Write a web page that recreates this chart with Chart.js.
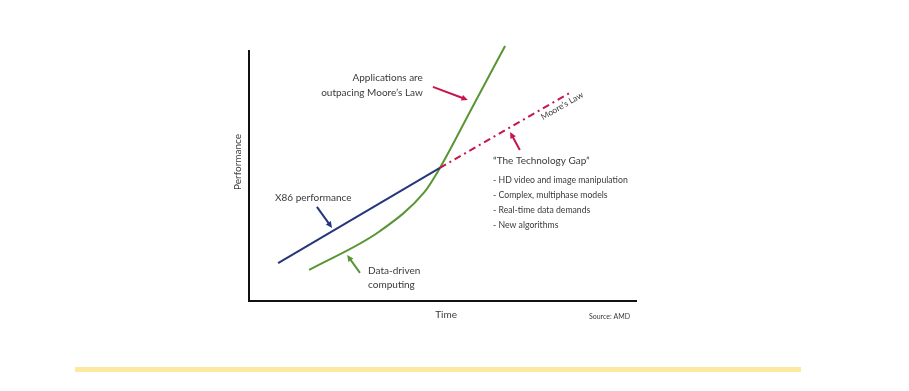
<!DOCTYPE html>
<html>
<head>
<meta charset="utf-8">
<title>The Technology Gap</title>
<script src="https://cdn.jsdelivr.net/npm/chart.js@4"></script>
<style>
  html, body { margin: 0; padding: 0; background: #ffffff; }
  #wrap { width: 909px; height: 391px; }
</style>
</head>
<body>
<div id="wrap"><canvas id="gapChart" width="909" height="391"></canvas></div>
<script>
// time (0-100) / performance (0-100)
const x86Time = [7.5, 49.2];
const x86Perf = [15.1, 53.0];

const mooreTime = [49.2, 82.7];
const moorePerf = [53.0, 82.9];

const dataTime = [15.5, 33.8, 45.2, 49.2, 57.5, 66.0];
const dataPerf = [12.4, 27.9, 43.4, 53.0, 77.0, 101.6];

const gapItems = [
  '- HD video and image manipulation',
  '- Complex, multiphase models',
  '- Real-time data demands',
  '- New algorithms'
];

const FONT = 'Lato, "Open Sans", sans-serif';
const TEXT = '#3a3a3a';
const NAVY = '#26367a';
const GREEN = '#5a9535';
const RED = '#c4174a';

function toPoints(xs, ys) {
  return xs.map((x, i) => ({ x: x, y: ys[i] }));
}

function arrow(ctx, x1, y1, x2, y2, color) {
  const ang = Math.atan2(y2 - y1, x2 - x1);
  const head = 7;
  ctx.save();
  ctx.strokeStyle = color;
  ctx.fillStyle = color;
  ctx.lineWidth = 2;
  ctx.beginPath();
  ctx.moveTo(x1, y1);
  ctx.lineTo(x2 - Math.cos(ang) * head * 0.8, y2 - Math.sin(ang) * head * 0.8);
  ctx.stroke();
  ctx.beginPath();
  ctx.moveTo(x2, y2);
  ctx.lineTo(x2 - head * Math.cos(ang - 0.45), y2 - head * Math.sin(ang - 0.45));
  ctx.lineTo(x2 - head * Math.cos(ang + 0.45), y2 - head * Math.sin(ang + 0.45));
  ctx.closePath();
  ctx.fill();
  ctx.restore();
}

// axes, labels and annotations
const decorations = {
  id: 'decorations',
  beforeDatasetsDraw(chart) {
    const ctx = chart.ctx;
    const a = chart.chartArea;
    ctx.save();
    ctx.strokeStyle = '#111111';
    ctx.lineWidth = 2;
    ctx.beginPath();
    ctx.moveTo(a.left, a.top);
    ctx.lineTo(a.left, a.bottom);
    ctx.lineTo(a.right, a.bottom);
    ctx.stroke();
    ctx.restore();
  },
  afterDatasetsDraw(chart) {
    const ctx = chart.ctx;
    const sx = v => chart.scales.x.getPixelForValue(v);
    const sy = v => chart.scales.y.getPixelForValue(v);

    ctx.save();
    ctx.fillStyle = TEXT;
    ctx.textBaseline = 'middle';

    // axis titles
    ctx.font = '10px ' + FONT;
    ctx.textAlign = 'center';
    ctx.fillText('Time', sx(50.8), sy(-5.4));
    ctx.save();
    ctx.translate(sx(-2.8), sy(55.4));
    ctx.rotate(-Math.PI / 2);
    ctx.fillText('Performance', 0, 0);
    ctx.restore();

    ctx.font = '7px ' + FONT;
    ctx.textAlign = 'left';
    ctx.fillText('Source: AMD', sx(87.6), sy(-6.4));

    // callouts
    ctx.font = '10px ' + FONT;
    ctx.textAlign = 'right';
    ctx.fillText('Applications are', sx(44.8), sy(88.8));
    ctx.fillText('outpacing Moore\u2019s Law', sx(44.8), sy(82.9));

    ctx.textAlign = 'left';
    ctx.fillText('X86 performance', sx(6.7), sy(41.0));
    ctx.fillText('Data-driven', sx(30.7), sy(12.0));
    ctx.fillText('computing', sx(30.7), sy(6.4));

    ctx.fillText('\u201CThe Technology Gap\u201D', sx(62.9), sy(55.8));
    ctx.font = '8.7px ' + FONT;
    const rowY = [48.2, 42.2, 36.3, 30.3];
    gapItems.forEach((t, i) => ctx.fillText(t, sx(62.9), sy(rowY[i])));

    // rotated Moore's Law label
    ctx.save();
    ctx.font = '8.5px ' + FONT;
    ctx.textAlign = 'center';
    ctx.translate(sx(80.7), sy(77.7));
    ctx.rotate(-Math.PI / 6);
    ctx.fillText('Moore\u2019s Law', 0, 0);
    ctx.restore();
    ctx.restore();

    arrow(ctx, sx(47.4), sy(85.3), sx(56.4), sy(80.1), RED);
    arrow(ctx, sx(69.8), sy(60.2), sx(67.3), sy(67.3), RED);
    arrow(ctx, sx(17.5), sy(37.5), sx(21.4), sy(29.1), NAVY);
    arrow(ctx, sx(28.6), sy(11.2), sx(25.3), sy(18.3), GREEN);

    // yellow rule under the figure
    ctx.save();
    ctx.fillStyle = '#fde8a0';
    ctx.fillRect(75, 367, 726, 5);
    ctx.restore();
  }
};

new Chart(document.getElementById('gapChart'), {
  type: 'line',
  data: {
    datasets: [{
      label: 'X86 performance',
      data: toPoints(x86Time, x86Perf),
      borderColor: NAVY,
      borderWidth: 2,
      pointRadius: 0,
      clip: false
    }, {
      label: 'Moore\u2019s Law',
      data: toPoints(mooreTime, moorePerf),
      borderColor: RED,
      borderWidth: 2,
      borderDash: [7, 4, 2, 4],
      pointRadius: 0,
      clip: false
    }, {
      label: 'Data-driven computing',
      data: toPoints(dataTime, dataPerf),
      borderColor: GREEN,
      borderWidth: 2,
      pointRadius: 0,
      cubicInterpolationMode: 'monotone',
      clip: false
    }]
  },
  options: {
    responsive: false,
    animation: false,
    layout: {
      padding: { left: 249, right: 272, top: 50, bottom: 90 }
    },
    scales: {
      x: { type: 'linear', min: 0, max: 100, display: false },
      y: { type: 'linear', min: 0, max: 100, display: false }
    },
    plugins: {
      legend: { display: false },
      tooltip: { enabled: false }
    }
  },
  plugins: [decorations]
});
</script>
</body>
</html>
